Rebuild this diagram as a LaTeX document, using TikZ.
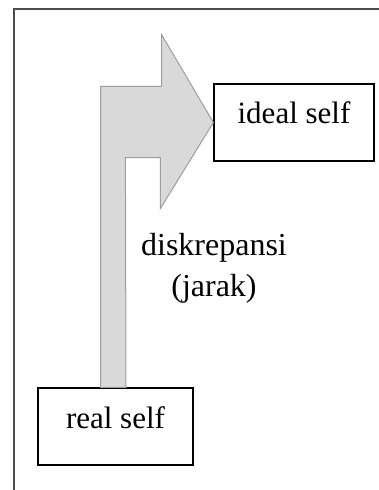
\documentclass[tikz,border=0pt]{standalone}
\usepackage{fontspec}
\setmainfont{Liberation Serif}
\usetikzlibrary{calc}

\begin{document}
\begin{tikzpicture}[x=1pt, y=-1pt,
    selfbox/.style={draw, line width=1.2pt, inner xsep=0pt, inner ysep=8pt,
      font=\fontsize{31}{36}\selectfont},
    bigarrow/.style={draw=black!38, fill=black!15, line width=1pt},
    frame/.style={draw=black!70, line width=1.5pt}]
      \useasboundingbox (0,0) rectangle (379,490);
      \draw[frame] (379,9) -- (14,9) -- (14,490);

      \node (IS) [selfbox, minimum width=160pt, text height=31pt, text depth=30pt] at (294,122.5) {ideal self};
      \node (RS) [selfbox, minimum width=155pt, text height=32pt, text depth=29pt] at (115.5,426.5) {real self};
      \node (D) [align=center, font=\fontsize{32}{41}\selectfont] at (214,268) {diskrepansi\\(jarak)};

      \draw[bigarrow] ($(RS.north)+(-15,0)$) -- ++(0,-301) -- ++(61,0) -- ++(0,-52)
        -- (IS.west) -- ++(-53,86) -- ++(0,-51) -- ++(-35,0)
        -- ($(RS.north)+(10.5,0)$) -- cycle;
\end{tikzpicture}
\end{document}
